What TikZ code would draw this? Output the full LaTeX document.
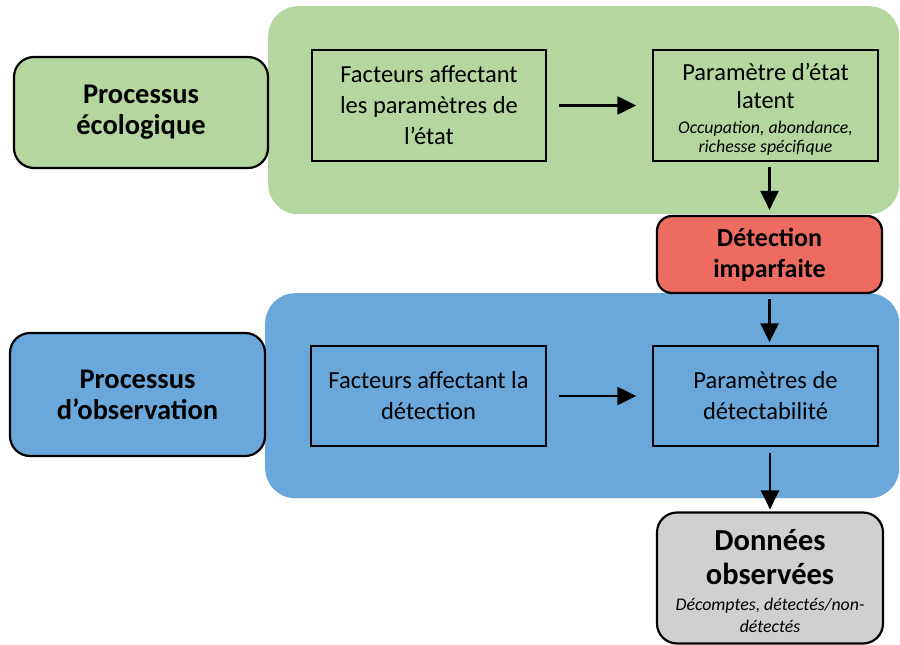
\documentclass[tikz,border=0pt]{standalone}
\usepackage{fontspec}
\setmainfont{Carlito}
\usetikzlibrary{arrows.meta,calc}
\definecolor{pgreen}{RGB}{180,215,160}
\definecolor{pblue}{RGB}{106,168,219}
\definecolor{pred}{RGB}{238,107,97}
\definecolor{pgray}{RGB}{208,208,208}
\tikzset{
  panel/.style={draw=none, rounded corners=30pt, inner sep=0pt, anchor=north west},
  sidebox/.style={draw=black, line width=2.2pt, rounded corners=20pt, align=center, inner sep=0pt,
    font=\fontsize{28.5}{31}\selectfont\bfseries},
  rectbox/.style={draw=black, line width=1.5pt, align=center, inner sep=0pt,
    font=\fontsize{24.5}{31}\selectfont},
  arr/.style={line width=2.6pt, -{Triangle[length=19pt,width=18pt]}}
}
\newcommand{\smallit}{\fontsize{17.8}{21}\selectfont\itshape}
\begin{document}
\begin{tikzpicture}[x=1pt,y=-1pt]
\useasboundingbox (0,0) rectangle (900,645);
\fill[white] (0,0) rectangle (900,645);
% panels
\node[panel, fill=pgreen, minimum width=631pt, minimum height=208pt] (gpanel) at (268,6) {};
\node[panel, fill=pblue, minimum width=634pt, minimum height=205pt] (bpanel) at (265,293) {};
% side boxes
\node[sidebox, fill=pgreen, minimum width=254pt, minimum height=111pt] (eco) at (141,112.5) {Processus\\écologique};
\node[sidebox, fill=pblue, minimum width=255pt, minimum height=123pt] (obs) at (137.5,394.5) {Processus\\d’observation};
% inner boxes
\node[rectbox, minimum width=234pt, minimum height=111pt] (fac1) at (429,105.5) {Facteurs affectant\\les paramètres de\\l’état};
\node[rectbox, minimum width=225pt, minimum height=111pt, font=\fontsize{24.5}{28}\selectfont] (lat) at (765.5,105.5)
  {\rule{0pt}{24.5pt}Paramètre d’état\\latent\\[-3pt]{\smallit Occupation, abondance,}\\[-9pt]{\smallit richesse spécifique}};
\node[rectbox, minimum width=235pt, minimum height=100pt] (fac2) at (428.5,396) {Facteurs affectant la\\détection};
\node[rectbox, minimum width=225pt, minimum height=100pt] (detp) at (765.5,396) {Paramètres de\\détectabilité};
% red and gray
\node[sidebox, fill=pred, minimum width=225pt, minimum height=77pt, rounded corners=15pt, font=\fontsize{26}{31}\selectfont\bfseries] (det) at (769.5,254.5) {Détection\\imparfaite};
\node[sidebox, fill=pgray, minimum width=226pt, minimum height=131pt, font=\fontsize{30.5}{34}\selectfont\bfseries] (don) at (770,578)
  {\rule{0pt}{28pt}Données\\observées\\[-8pt]{\fontsize{17.8}{19}\selectfont\mdseries\itshape Décomptes, détectés/non-}\\[-12pt]{\fontsize{17.8}{19}\selectfont\mdseries\itshape détectés}};
% arrows
\draw[arr, shorten <=12pt, shorten >=16pt] (fac1.east) -- (lat.west |- fac1.east);
\draw[arr, shorten <=12pt, shorten >=16pt] (fac2.east) -- (detp.west |- fac2.east);
\draw[arr, shorten <=5pt, shorten >=5pt] (det.north |- lat.south) -- (det.north);
\draw[arr, shorten <=5pt, shorten >=3pt] (det.south) -- (det.south |- detp.north);
\draw[arr, shorten <=6pt, shorten >=2pt] (don.north |- detp.south) -- (don.north);
\end{tikzpicture}
\end{document}
